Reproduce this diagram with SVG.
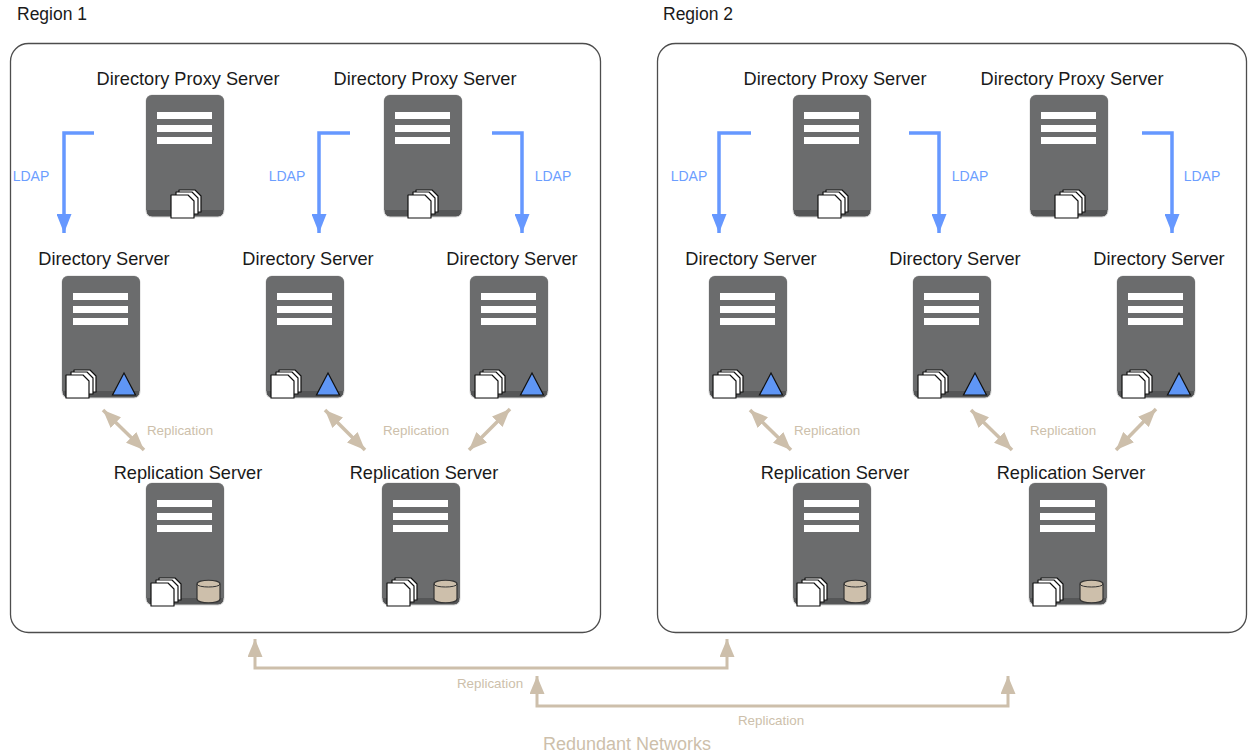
<svg xmlns="http://www.w3.org/2000/svg" xmlns:xlink="http://www.w3.org/1999/xlink" width="1249" height="755" viewBox="0 0 1249 755">
<style>
text{font-family:"Liberation Sans",Arial,sans-serif}
.title{font-size:18.200px;fill:#1a1a1a;text-anchor:middle}
.rgn{font-size:17.500px;fill:#1a1a1a}
.ldap{font-size:14px;fill:#6c9eff;text-anchor:middle}
.rep{font-size:13.400px;fill:#cdbfab;text-anchor:middle}
.net{font-size:18px;fill:#cdbfab;text-anchor:middle}
.region{fill:#fff;stroke:#4d4d4d;stroke-width:1.3}
.blue{fill:none;stroke:#6698ff;stroke-width:3.500}
.tan{fill:none;stroke:#cdbfab;stroke-width:3}
.tan2{fill:none;stroke:#cdbfab;stroke-width:3.500}
.page{fill:#fff;stroke:#111;stroke-width:1.200;stroke-linejoin:round}
</style>
<defs>
<marker id="ab" markerUnits="userSpaceOnUse" markerWidth="19" markerHeight="15" refX="19" refY="7.500" orient="auto" viewBox="0 0 19 15"><path d="M0 0L19 7.500L0 15Z" fill="#6698ff"/></marker>
<marker id="at" markerUnits="userSpaceOnUse" markerWidth="18" markerHeight="15" refX="18" refY="7.500" orient="auto" viewBox="0 0 18 15"><path d="M0 0L18 7.500L0 15Z" fill="#cdbfab"/></marker>
<marker id="ats" markerUnits="userSpaceOnUse" markerWidth="18" markerHeight="15" refX="0" refY="7.500" orient="auto" viewBox="0 0 18 15"><path d="M18 0L0 7.500L18 15Z" fill="#cdbfab"/></marker>
<g id="server">
<rect x="0" y="0" width="78" height="122" rx="6" fill="#555657" stroke="#d8d8d8" stroke-width="1"/>
<path d="M0 6a6 6 0 0 1 6-6h66a6 6 0 0 1 6 6V115H0Z" fill="#6b6c6d"/>
<rect x="11" y="17" width="55" height="7" fill="#fff"/>
<rect x="11" y="30" width="55" height="7" fill="#fff"/>
<rect x="11" y="42" width="55" height="7" fill="#fff"/>
</g>
<g id="docs">
<path class="page" d="M8 0H24L30 6V22H8Z"/>
<path class="page" d="M5 2H21L27 8V24H5Z"/>
<path class="page" d="M0 5H17L23 11V28H0Z"/>
</g>
<path id="tri" d="M11.500 0L23 22H0Z" fill="#5f96f5" stroke="#111" stroke-width="1.200"/>
<g id="cyl">
<path d="M0 4C0-1 23-1 23 4V19C23 24 0 24 0 19Z" fill="#cdbfab" stroke="#333" stroke-width="1.200"/>
<path d="M0 4C0 8 23 8 23 4" fill="none" stroke="#333" stroke-width="1"/>
</g>
</defs>

<g id="region-1"><rect class="region" x="10.500" y="43.500" width="590" height="589" rx="18"/><text class="rgn" x="17" y="20">Region 1</text></g>
<g id="region-2"><rect class="region" x="657.500" y="43.500" width="589" height="589" rx="18"/><text class="rgn" x="663" y="20">Region 2</text></g>

<g id="connectors">
<path class="blue" marker-end="url(#ab)" d="M94 133H64V233"/>
<path class="blue" marker-end="url(#ab)" d="M350 133H319V233"/>
<path class="blue" marker-end="url(#ab)" d="M492 133H522V233"/>
<path class="blue" marker-end="url(#ab)" d="M751 133H719V233"/>
<path class="blue" marker-end="url(#ab)" d="M909 133H939V233"/>
<path class="blue" marker-end="url(#ab)" d="M1142 133H1172V233"/>
<path class="tan2" marker-start="url(#ats)" marker-end="url(#at)" d="M103 410L144 450"/>
<path class="tan2" marker-start="url(#ats)" marker-end="url(#at)" d="M325 410L365 450"/>
<path class="tan2" marker-start="url(#ats)" marker-end="url(#at)" d="M510 409L469 450"/>
<path class="tan2" marker-start="url(#ats)" marker-end="url(#at)" d="M750 410L791 450"/>
<path class="tan2" marker-start="url(#ats)" marker-end="url(#at)" d="M971 410L1012 450"/>
<path class="tan2" marker-start="url(#ats)" marker-end="url(#at)" d="M1156 409L1116 450"/>
<path class="tan" marker-start="url(#ats)" marker-end="url(#at)" d="M255 639V668H727V639"/>
<path class="tan" marker-start="url(#ats)" marker-end="url(#at)" d="M537 676V706H1008V676"/>
</g>

<g id="labels">
<text class="ldap" x="31" y="181">LDAP</text>
<text class="ldap" x="287" y="181">LDAP</text>
<text class="ldap" x="553" y="181">LDAP</text>
<text class="ldap" x="689" y="181">LDAP</text>
<text class="ldap" x="970" y="181">LDAP</text>
<text class="ldap" x="1202" y="181">LDAP</text>
<text class="rep" x="180" y="435">Replication</text>
<text class="rep" x="416" y="435">Replication</text>
<text class="rep" x="827" y="435">Replication</text>
<text class="rep" x="1063" y="435">Replication</text>
<text class="rep" x="490" y="688">Replication</text>
<text class="rep" x="771" y="725">Replication</text>
<text class="net" x="627" y="750">Redundant Networks</text>
</g>

<g id="proxy-1-1"><use href="#server" x="146" y="95"/><use href="#docs" x="171" y="190"/><text class="title" x="188" y="85">Directory Proxy Server</text></g>
<g id="proxy-1-2"><use href="#server" x="384" y="95"/><use href="#docs" x="408" y="190"/><text class="title" x="425" y="85">Directory Proxy Server</text></g>
<g id="proxy-2-1"><use href="#server" x="793" y="95"/><use href="#docs" x="818" y="190"/><text class="title" x="835" y="85">Directory Proxy Server</text></g>
<g id="proxy-2-2"><use href="#server" x="1030" y="95"/><use href="#docs" x="1055" y="190"/><text class="title" x="1072" y="85">Directory Proxy Server</text></g>

<g id="dir-1-1"><use href="#server" x="62" y="276"/><use href="#docs" x="66" y="370"/><use href="#tri" x="112.500" y="373"/><text class="title" x="104" y="265">Directory Server</text></g>
<g id="dir-1-2"><use href="#server" x="266" y="276"/><use href="#docs" x="271" y="370"/><use href="#tri" x="316.500" y="373"/><text class="title" x="308" y="265">Directory Server</text></g>
<g id="dir-1-3"><use href="#server" x="470" y="276"/><use href="#docs" x="475" y="370"/><use href="#tri" x="520.500" y="373"/><text class="title" x="512" y="265">Directory Server</text></g>
<g id="dir-2-1"><use href="#server" x="709" y="276"/><use href="#docs" x="713" y="370"/><use href="#tri" x="759.500" y="373"/><text class="title" x="751" y="265">Directory Server</text></g>
<g id="dir-2-2"><use href="#server" x="913" y="276"/><use href="#docs" x="918" y="370"/><use href="#tri" x="963.500" y="373"/><text class="title" x="955" y="265">Directory Server</text></g>
<g id="dir-2-3"><use href="#server" x="1117" y="276"/><use href="#docs" x="1122" y="370"/><use href="#tri" x="1167.500" y="373"/><text class="title" x="1159" y="265">Directory Server</text></g>

<g id="repl-1-1"><use href="#server" x="146" y="483"/><use href="#docs" x="151" y="578"/><use href="#cyl" x="197" y="580"/><text class="title" x="188" y="479">Replication Server</text></g>
<g id="repl-1-2"><use href="#server" x="382" y="483"/><use href="#docs" x="387" y="578"/><use href="#cyl" x="434" y="580"/><text class="title" x="424" y="479">Replication Server</text></g>
<g id="repl-2-1"><use href="#server" x="793" y="483"/><use href="#docs" x="797" y="578"/><use href="#cyl" x="844" y="580"/><text class="title" x="835" y="479">Replication Server</text></g>
<g id="repl-2-2"><use href="#server" x="1029" y="483"/><use href="#docs" x="1033" y="578"/><use href="#cyl" x="1080" y="580"/><text class="title" x="1071" y="479">Replication Server</text></g>
</svg>
